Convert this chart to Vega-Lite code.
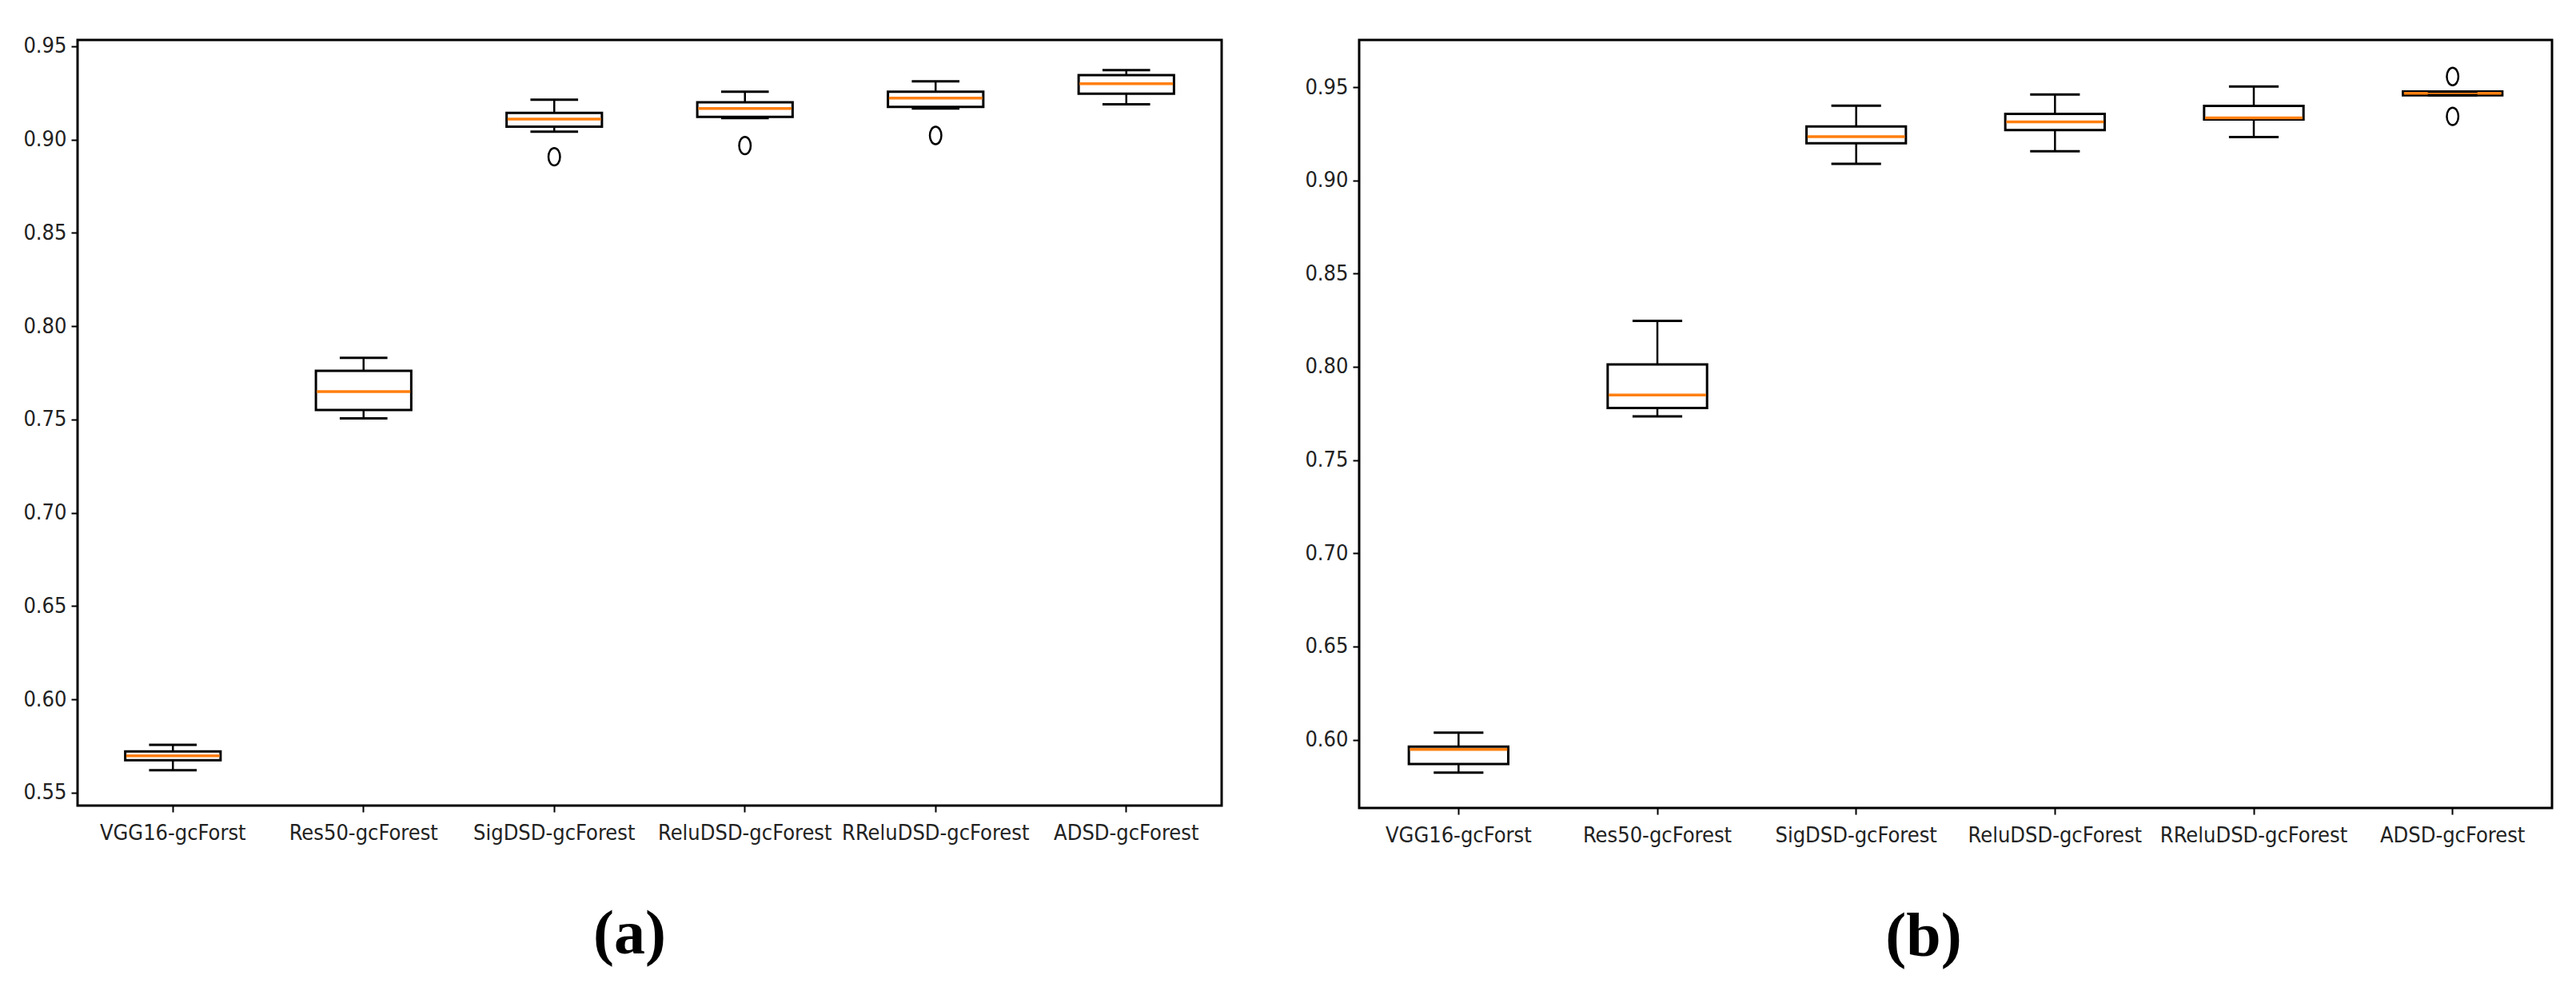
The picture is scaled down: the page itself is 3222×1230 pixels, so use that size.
{
  "$schema": "https://vega.github.io/schema/vega-lite/v6.json",
  "background": "white",
  "padding": {"left": 27, "top": 42, "right": 0, "bottom": 0},
  "bounds": "flush",
  "spacing": 172,
  "datasets": {
    "a": [
      {"model": "VGG16-gcForst", "lo": 0.5620, "q1": 0.5674, "med": 0.5698, "q3": 0.5721, "hi": 0.5756},
      {"model": "Res50-gcForest", "lo": 0.7506, "q1": 0.7551, "med": 0.7650, "q3": 0.7761, "hi": 0.7830},
      {"model": "SigDSD-gcForest", "lo": 0.9043, "q1": 0.9069, "med": 0.9110, "q3": 0.9143, "hi": 0.9214},
      {"model": "ReluDSD-gcForest", "lo": 0.9115, "q1": 0.9122, "med": 0.9167, "q3": 0.9200, "hi": 0.9257},
      {"model": "RReluDSD-gcForest", "lo": 0.9167, "q1": 0.9175, "med": 0.9222, "q3": 0.9257, "hi": 0.9312},
      {"model": "ADSD-gcForest", "lo": 0.9189, "q1": 0.9246, "med": 0.9300, "q3": 0.9346, "hi": 0.9372}
    ],
    "a_out": [
      {"model": "SigDSD-gcForest", "v": 0.8908},
      {"model": "ReluDSD-gcForest", "v": 0.8968},
      {"model": "RReluDSD-gcForest", "v": 0.9022}
    ],
    "b": [
      {"model": "VGG16-gcForst", "lo": 0.5824, "q1": 0.5870, "med": 0.5948, "q3": 0.5963, "hi": 0.6038},
      {"model": "Res50-gcForest", "lo": 0.7734, "q1": 0.7779, "med": 0.7849, "q3": 0.8013, "hi": 0.8246},
      {"model": "SigDSD-gcForest", "lo": 0.9089, "q1": 0.9199, "med": 0.9234, "q3": 0.9289, "hi": 0.9400},
      {"model": "ReluDSD-gcForest", "lo": 0.9156, "q1": 0.9270, "med": 0.9314, "q3": 0.9357, "hi": 0.9460},
      {"model": "RReluDSD-gcForest", "lo": 0.9232, "q1": 0.9327, "med": 0.9335, "q3": 0.9399, "hi": 0.9503},
      {"model": "ADSD-gcForest", "lo": 0.9456, "q1": 0.9456, "med": 0.9467, "q3": 0.9477, "hi": 0.9477}
    ],
    "b_out": [
      {"model": "ADSD-gcForest", "v": 0.9557},
      {"model": "ADSD-gcForest", "v": 0.9343}
    ]
  },
  "config": {
    "view": {"stroke": "black", "strokeWidth": 3},
    "font": "DejaVu Sans",
    "axis": {
      "domain": false,
      "grid": false,
      "tickColor": "black",
      "tickWidth": 2,
      "tickSize": 8,
      "labelFont": "DejaVu Sans Condensed, DejaVu Sans",
      "labelFontSize": 27,
      "labelLimit": 0,
      "labelColor": "#222222",
      "title": null
    },
    "axisX": {"labelPadding": 13, "labelAngle": 0},
    "axisY": {"labelPadding": 6},
    "title": {"font": "Liberation Serif", "fontSize": 78, "fontWeight": "bold", "color": "black", "orient": "bottom", "anchor": "middle", "frame": "group"}
  },
  "hconcat": [
    {
      "width": 1431,
      "height": 958,
      "title": {"text": "(a)", "dx": -25, "offset": 76},
      "layer": [
        {
          "data": {"name": "a"},
          "mark": {"type": "rule", "color": "black", "strokeWidth": 2.5},
          "encoding": {
            "x": {"field": "model", "type": "nominal", "sort": null, "scale": {"paddingInner": 0, "paddingOuter": 0}},
            "y": {"field": "lo", "type": "quantitative", "scale": {"domain": [0.5431, 0.9534], "nice": false, "zero": false}, "axis": {"values": [0.55, 0.6, 0.65, 0.7, 0.75, 0.8, 0.85, 0.9, 0.95], "format": ".2f"}},
            "y2": {"field": "hi"}
          }
        },
        {
          "data": {"name": "a"},
          "mark": {"type": "bar", "fill": "white", "stroke": "black", "strokeWidth": 3, "width": {"band": 0.5}},
          "encoding": {
            "x": {"field": "model", "type": "nominal", "sort": null},
            "y": {"field": "q1", "type": "quantitative"},
            "y2": {"field": "q3"}
          }
        },
        {
          "data": {"name": "a"},
          "mark": {"type": "bar", "fill": null, "stroke": "#ff7f0e", "strokeWidth": 3.5, "width": {"band": 0.49}},
          "encoding": {
            "x": {"field": "model", "type": "nominal", "sort": null},
            "y": {"field": "med", "type": "quantitative"},
            "y2": {"field": "med"}
          }
        },
        {
          "data": {"name": "a"},
          "mark": {"type": "bar", "fill": null, "stroke": "black", "strokeWidth": 3, "width": {"band": 0.25}},
          "encoding": {
            "x": {"field": "model", "type": "nominal", "sort": null},
            "y": {"field": "lo", "type": "quantitative"},
            "y2": {"field": "lo"}
          }
        },
        {
          "data": {"name": "a"},
          "mark": {"type": "bar", "fill": null, "stroke": "black", "strokeWidth": 3, "width": {"band": 0.25}},
          "encoding": {
            "x": {"field": "model", "type": "nominal", "sort": null},
            "y": {"field": "hi", "type": "quantitative"},
            "y2": {"field": "hi"}
          }
        },
        {
          "data": {"name": "a_out"},
          "mark": {"type": "point", "shape": "M0,-1A0.66,1 0 1,1 0,1A0.66,1 0 1,1 0,-1Z", "filled": false, "stroke": "black", "strokeWidth": 2.5, "size": 480, "opacity": 1},
          "encoding": {
            "x": {"field": "model", "type": "nominal", "sort": null},
            "y": {"field": "v", "type": "quantitative"}
          }
        }
      ]
    },
    {
      "width": 1492,
      "height": 961,
      "title": {"text": "(b)", "dx": -40, "offset": 76},
      "layer": [
        {
          "data": {"name": "b"},
          "mark": {"type": "rule", "color": "black", "strokeWidth": 2.5},
          "encoding": {
            "x": {"field": "model", "type": "nominal", "sort": null, "scale": {"paddingInner": 0, "paddingOuter": 0}},
            "y": {"field": "lo", "type": "quantitative", "scale": {"domain": [0.5634, 0.9753], "nice": false, "zero": false}, "axis": {"values": [0.6, 0.65, 0.7, 0.75, 0.8, 0.85, 0.9, 0.95], "format": ".2f"}},
            "y2": {"field": "hi"}
          }
        },
        {
          "data": {"name": "b"},
          "mark": {"type": "bar", "fill": "white", "stroke": "black", "strokeWidth": 3, "width": {"band": 0.5}},
          "encoding": {
            "x": {"field": "model", "type": "nominal", "sort": null},
            "y": {"field": "q1", "type": "quantitative"},
            "y2": {"field": "q3"}
          }
        },
        {
          "data": {"name": "b"},
          "mark": {"type": "bar", "fill": null, "stroke": "#ff7f0e", "strokeWidth": 3.5, "width": {"band": 0.49}},
          "encoding": {
            "x": {"field": "model", "type": "nominal", "sort": null},
            "y": {"field": "med", "type": "quantitative"},
            "y2": {"field": "med"}
          }
        },
        {
          "data": {"name": "b"},
          "mark": {"type": "bar", "fill": null, "stroke": "black", "strokeWidth": 3, "width": {"band": 0.25}},
          "encoding": {
            "x": {"field": "model", "type": "nominal", "sort": null},
            "y": {"field": "lo", "type": "quantitative"},
            "y2": {"field": "lo"}
          }
        },
        {
          "data": {"name": "b"},
          "mark": {"type": "bar", "fill": null, "stroke": "black", "strokeWidth": 3, "width": {"band": 0.25}},
          "encoding": {
            "x": {"field": "model", "type": "nominal", "sort": null},
            "y": {"field": "hi", "type": "quantitative"},
            "y2": {"field": "hi"}
          }
        },
        {
          "data": {"name": "b_out"},
          "mark": {"type": "point", "shape": "M0,-1A0.66,1 0 1,1 0,1A0.66,1 0 1,1 0,-1Z", "filled": false, "stroke": "black", "strokeWidth": 2.5, "size": 480, "opacity": 1},
          "encoding": {
            "x": {"field": "model", "type": "nominal", "sort": null},
            "y": {"field": "v", "type": "quantitative"}
          }
        }
      ]
    }
  ]
}
